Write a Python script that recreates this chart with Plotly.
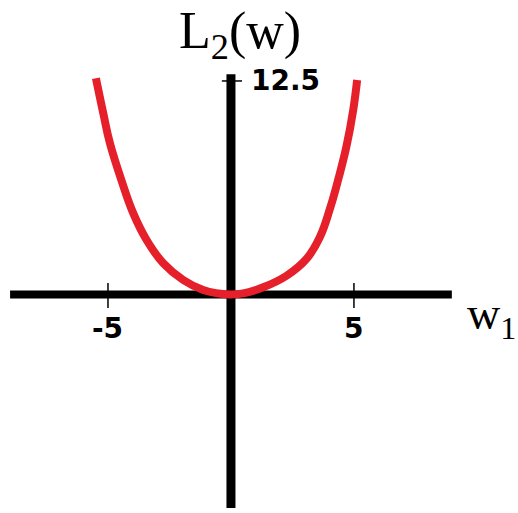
import plotly.graph_objects as go

# Curve (w1, L2(w))
w_vals = [-5.49, -5.19, -4.92, -4.43, -3.97, -3.43, -2.75, -1.94, -1.13, -0.50, 0.0,
          0.55, 1.31, 2.26, 3.08, 3.62, 4.02, 4.30, 4.70, 4.97, 5.13]
L_vals = [12.66, 10.60, 8.85, 6.59, 4.75, 3.19, 1.83, 0.85, 0.26, 0.06, 0.0,
          0.08, 0.42, 1.10, 2.10, 3.38, 5.00, 6.40, 8.70, 10.80, 12.56]

x_ticks = [-5, 5]
x_tick_text = ["-5", "5"]
y_ticks = [12.5]
y_tick_text = ["12.5"]

x_axis_extent = [-8.98, 8.98]
y_axis_extent = [-12.5, 12.9]

fig = go.Figure()

# axes
fig.add_trace(go.Scatter(x=x_axis_extent, y=[0, 0], mode="lines",
                         line=dict(color="black", width=8), hoverinfo="skip"))
fig.add_trace(go.Scatter(x=[0, 0], y=y_axis_extent, mode="lines",
                         line=dict(color="black", width=9), hoverinfo="skip"))

# ticks
for xv in x_ticks:
    fig.add_shape(type="line", x0=xv, x1=xv, y0=-0.79, y1=0.67,
                  line=dict(color="black", width=1.5), xref="x", yref="y")
for yv in y_ticks:
    fig.add_shape(type="line", x0=-0.37, x1=0.45, y0=yv, y1=yv,
                  line=dict(color="black", width=1.5), xref="x", yref="y")

# curve
fig.add_trace(go.Scatter(x=w_vals, y=L_vals, mode="lines",
                         line=dict(color="#e5202b", width=8, shape="spline",
                                   smoothing=1.2),
                         hoverinfo="skip"))

# tick labels
for xv, t in zip(x_ticks, x_tick_text):
    fig.add_annotation(x=xv, y=-2.0, text=f"<b>{t}</b>", showarrow=False,
                       xanchor="center", yanchor="middle",
                       font=dict(family="DejaVu Sans", size=28, color="black"))
for yv, t in zip(y_ticks, y_tick_text):
    fig.add_annotation(x=0.75, y=yv, text=f"<b>{t}</b>", showarrow=False,
                       xanchor="left", yanchor="middle",
                       font=dict(family="DejaVu Sans", size=28, color="black"))

# axis titles
fig.add_annotation(x=-2.2, y=1.0, yref="paper", text="L<sub>2</sub>(w)",
                   showarrow=False, xanchor="left", yanchor="top",
                   font=dict(family="Liberation Serif", size=52, color="black"))
fig.add_annotation(x=1.0, xref="paper", y=-1.3, text="w<sub>1</sub>", showarrow=False,
                   xanchor="right", yanchor="middle",
                   font=dict(family="Liberation Serif", size=46, color="black"))

fig.update_layout(
    width=518, height=513,
    margin=dict(l=0, r=0, t=0, b=0),
    paper_bgcolor="white", plot_bgcolor="white",
    showlegend=False,
    xaxis=dict(range=[-9.39, 11.67], visible=False, fixedrange=True),
    yaxis=dict(range=[-12.79, 17.24], visible=False, fixedrange=True),
)

fig.write_html("out.html", config={"displayModeBar": False},
               post_script="document.body.style.margin='0';")
